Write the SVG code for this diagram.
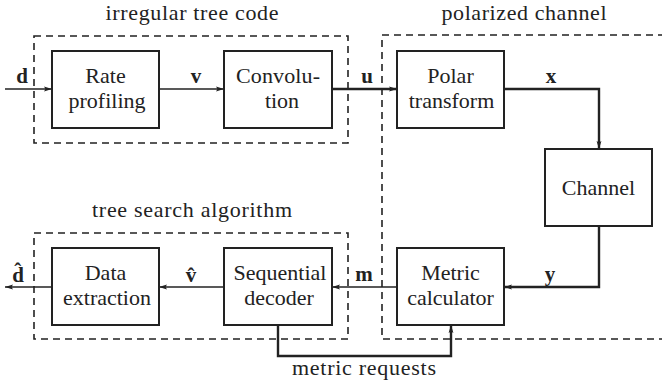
<svg xmlns="http://www.w3.org/2000/svg" width="662" height="386" viewBox="0 0 662 386">
<style>
  .box { fill: #fff; stroke: #222; stroke-width: 2; }
  .dash { fill: none; stroke: #222; stroke-width: 1.6; stroke-dasharray: 7 5; }
  .t { font-family: "Liberation Serif", "DejaVu Serif", serif; font-size: 22px; fill: #222; text-anchor: middle; }
  .b { font-family: "Liberation Serif", "DejaVu Serif", serif; font-size: 21px; font-weight: bold; fill: #222; text-anchor: middle; }
  .thin { fill: none; stroke: #222; stroke-width: 1.4; }
  .thick { fill: none; stroke: #222; stroke-width: 2.4; }
</style>
<defs>
  <marker id="ah" viewBox="0 0 8 6" refX="8" refY="3" markerUnits="userSpaceOnUse" markerWidth="8" markerHeight="6" orient="auto">
    <path d="M0,0.6 L8,3 L0,5.4 L1.5,3 Z" fill="#222"/>
  </marker>
</defs>

<g id="groups">
  <rect class="dash" x="34" y="36" width="314" height="107"/>
  <text class="t" x="192" y="20" textLength="173" lengthAdjust="spacing">irregular tree code</text>
  <rect class="dash" x="382" y="35" width="290" height="304"/>
  <text class="t" x="524" y="20" textLength="165" lengthAdjust="spacing">polarized channel</text>
  <rect class="dash" x="34" y="233" width="314" height="106"/>
  <text class="t" x="192" y="217" textLength="200" lengthAdjust="spacing">tree search algorithm</text>
</g>

<g id="connectors">
  <line class="thin" x1="5" y1="89" x2="52" y2="89" marker-end="url(#ah)"/>
  <line class="thin" x1="159" y1="89" x2="224" y2="89" marker-end="url(#ah)"/>
  <line class="thick" x1="332" y1="89" x2="397" y2="89" marker-end="url(#ah)"/>
  <polyline class="thick" points="504,89 599,89 599,149" marker-end="url(#ah)"/>
  <polyline class="thick" points="599,226 599,287 504,287" marker-end="url(#ah)"/>
  <line class="thin" x1="397" y1="287" x2="332" y2="287" marker-end="url(#ah)"/>
  <line class="thin" x1="224" y1="287" x2="159" y2="287" marker-end="url(#ah)"/>
  <line class="thin" x1="52" y1="287" x2="5" y2="287" marker-end="url(#ah)"/>
  <polyline class="thick" points="278,325 278,356 451,356 451,325" marker-end="url(#ah)"/>
  <text class="b" x="22" y="83">d</text>
  <text class="b" x="196" y="83">v</text>
  <text class="b" x="367" y="83">u</text>
  <text class="b" x="551" y="83">x</text>
  <text class="b" x="550" y="281">y</text>
  <text class="b" x="364" y="281">m</text>
  <text class="b" x="191" y="282">v&#x302;</text>
  <text class="b" x="18" y="282">d&#x302;</text>
  <text class="t" x="364" y="375" textLength="144" lengthAdjust="spacing">metric requests</text>
</g>

<g id="rate">
  <rect class="box" x="52" y="51" width="107" height="77"/>
  <text class="t" x="105.5" y="83">Rate</text>
  <text class="t" x="107" y="108">profiling</text>
</g>
<g id="conv">
  <rect class="box" x="224" y="51" width="108" height="77"/>
  <text class="t" x="278" y="83" textLength="84" lengthAdjust="spacing">Convolu-</text>
  <text class="t" x="282" y="108">tion</text>
</g>
<g id="polar">
  <rect class="box" x="397" y="51" width="107" height="77"/>
  <text class="t" x="450.5" y="83">Polar</text>
  <text class="t" x="451.5" y="108">transform</text>
</g>
<g id="channel">
  <rect class="box" x="545" y="149" width="107" height="77"/>
  <text class="t" x="598.5" y="195">Channel</text>
</g>
<g id="metric">
  <rect class="box" x="397" y="248" width="107" height="77"/>
  <text class="t" x="450.5" y="280">Metric</text>
  <text class="t" x="450.5" y="305">calculator</text>
</g>
<g id="seq">
  <rect class="box" x="224" y="248" width="108" height="77"/>
  <text class="t" x="280" y="280">Sequential</text>
  <text class="t" x="279" y="305">decoder</text>
</g>
<g id="data">
  <rect class="box" x="52" y="248" width="107" height="77"/>
  <text class="t" x="105.5" y="280">Data</text>
  <text class="t" x="107" y="305">extraction</text>
</g>
</svg>
